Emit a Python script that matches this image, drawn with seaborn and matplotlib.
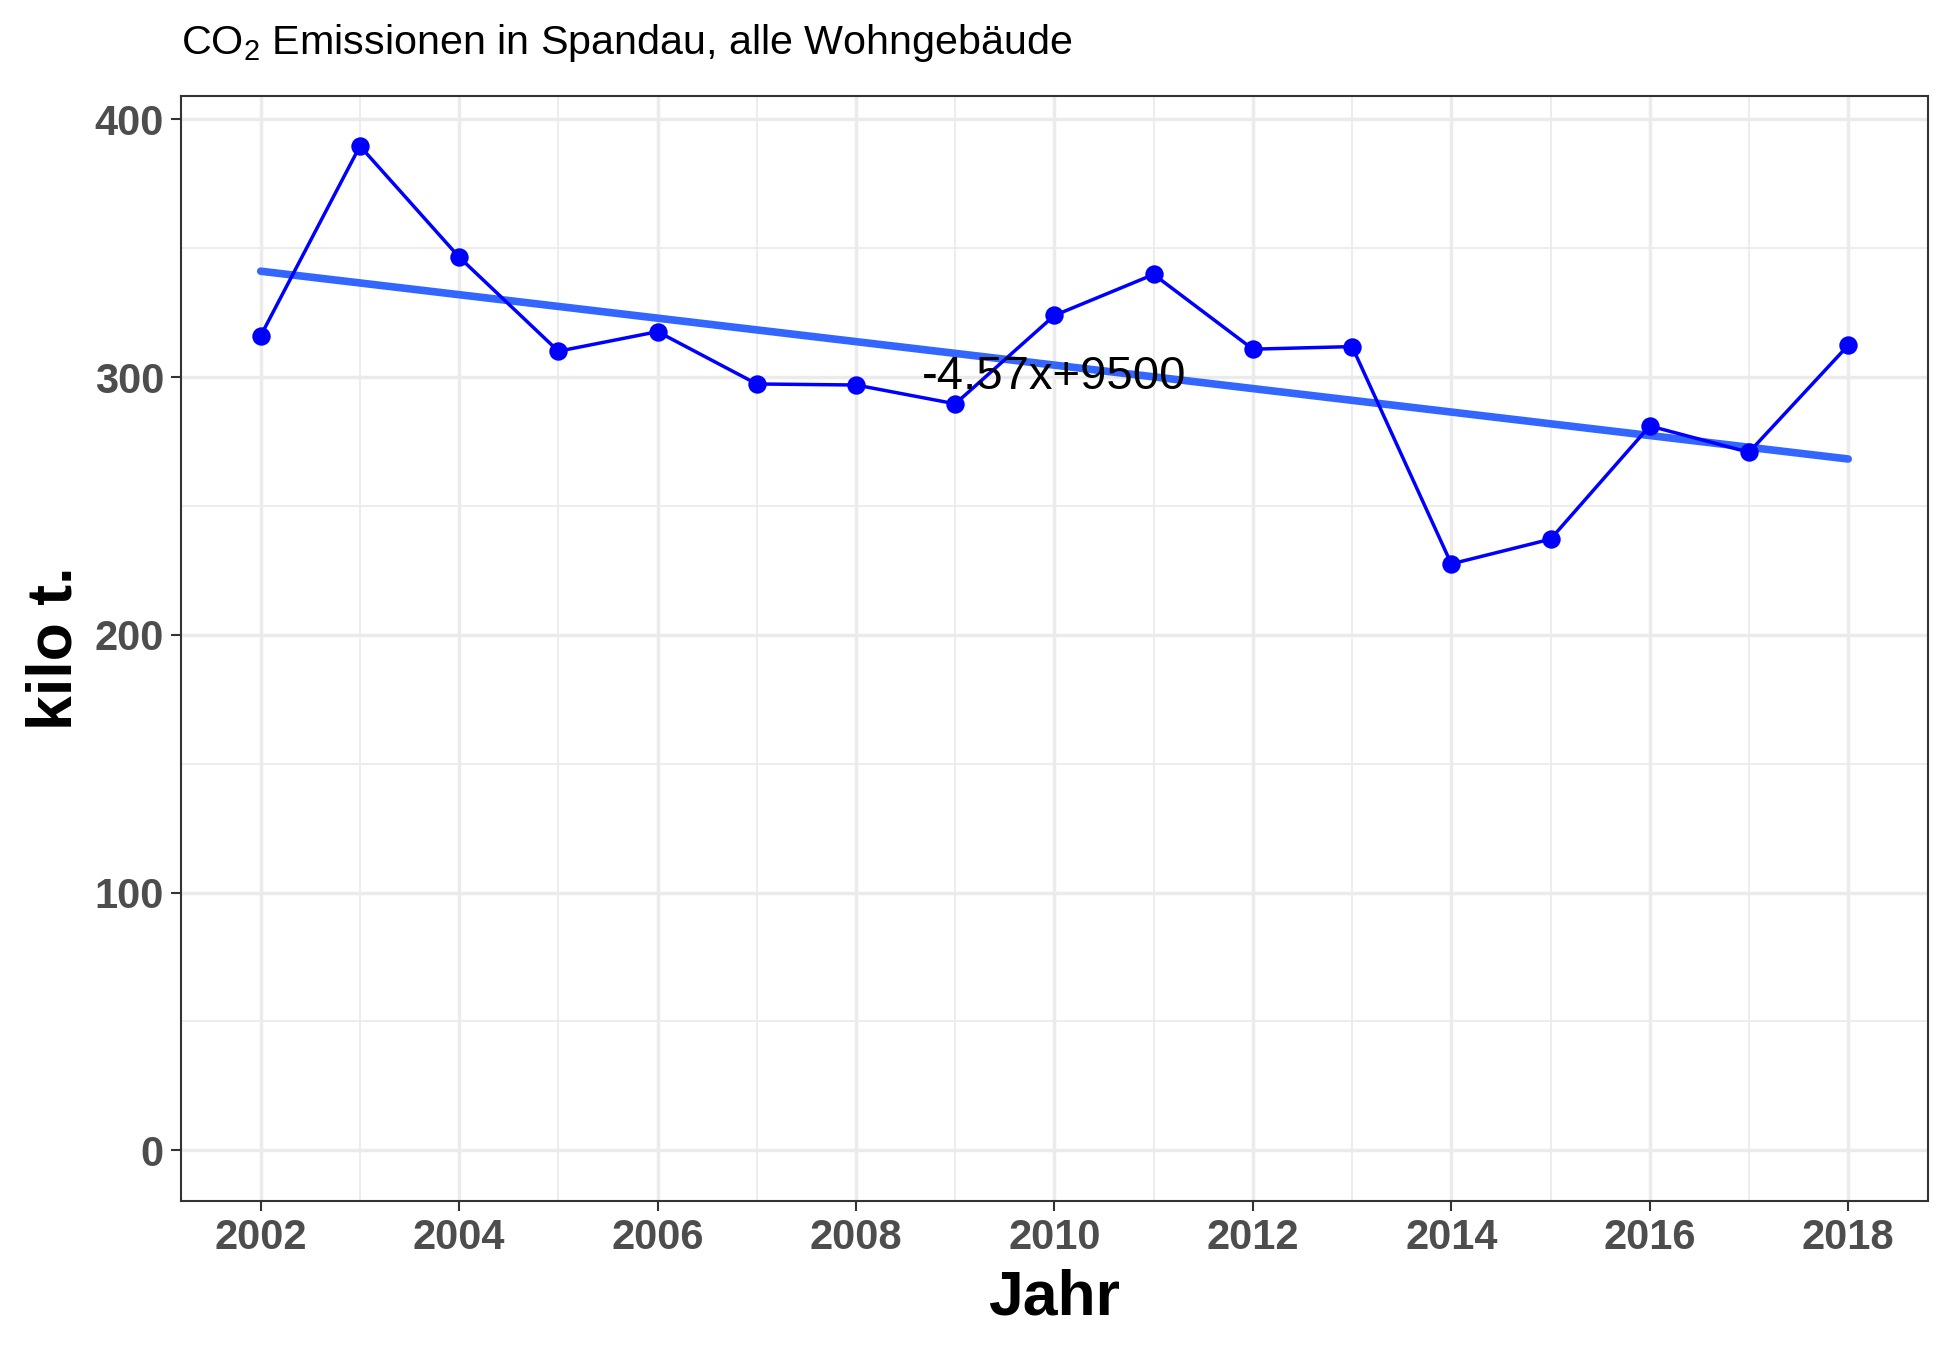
import matplotlib
matplotlib.use("Agg")
import matplotlib.pyplot as plt
import numpy as np
import pandas as pd
import seaborn as sns
from matplotlib.ticker import MultipleLocator

# CO2 emissions, all residential buildings, Spandau (kilo t.)
years = [2002, 2003, 2004, 2005, 2006, 2007, 2008, 2009, 2010,
         2011, 2012, 2013, 2014, 2015, 2016, 2017, 2018]
emissions = [316.0, 389.6, 346.5, 310.0, 317.6, 297.3, 296.9, 289.6, 323.9,
             339.8, 310.8, 311.8, 227.5, 237.1, 281.0, 270.8, 312.3]
fit_label = "-4.57x+9500"

df = pd.DataFrame({"Jahr": years, "kilo": emissions})

sns.set_theme(style="whitegrid")
plt.rcParams.update({
    "font.family": ["Liberation Sans", "DejaVu Sans"],
    "mathtext.fontset": "custom",
    "mathtext.rm": "Liberation Sans",
    "mathtext.default": "regular",
})

fig = plt.figure(figsize=(7.8, 5.396), dpi=250)
ax = fig.add_axes([0.093, 0.110, 0.8955, 0.819])

ax.set_facecolor("white")
ax.grid(which="major", color="#EBEBEB", linewidth=1.0)
ax.grid(which="minor", color="#EBEBEB", linewidth=0.5)
ax.xaxis.set_major_locator(MultipleLocator(2))
ax.xaxis.set_minor_locator(MultipleLocator(1))
ax.yaxis.set_major_locator(MultipleLocator(100))
ax.yaxis.set_minor_locator(MultipleLocator(50))
ax.set_axisbelow(True)

sns.regplot(data=df, x="Jahr", y="kilo", scatter=False, ci=None, ax=ax,
            line_kws={"color": "#3366FF", "linewidth": 2.2, "zorder": 2})
sns.lineplot(data=df, x="Jahr", y="kilo", color="blue", linewidth=1.0,
             marker="o", markersize=5.3, markeredgewidth=0, ax=ax, zorder=3)

ax.text(2010, 300, fit_label, ha="center", va="center", fontsize=13.6,
        color="black", zorder=4)

ax.set_xlim(2001.2, 2018.8)
ax.set_ylim(-19.5, 409.1)

for s in ax.spines.values():
    s.set_visible(True)
    s.set_color("#333333")
    s.set_linewidth(0.6)

ax.tick_params(which="major", length=3, width=0.6, color="#333333",
               labelsize=12, labelcolor="#4D4D4D", pad=2, bottom=True, left=True)
ax.tick_params(which="minor", length=0)
for lab in ax.get_xticklabels() + ax.get_yticklabels():
    lab.set_fontweight("bold")

ax.set_xlabel("Jahr", fontsize=18, fontweight="bold", color="black", labelpad=3)
ax.set_ylabel("kilo t.", fontsize=18, fontweight="bold", color="black", labelpad=3)
ax.set_title(r"CO$_2$ Emissionen in Spandau, alle Wohngebäude", loc="left",
             fontsize=11.9, color="black", pad=12, x=0.0)

fig.savefig("out.png", dpi=250)
